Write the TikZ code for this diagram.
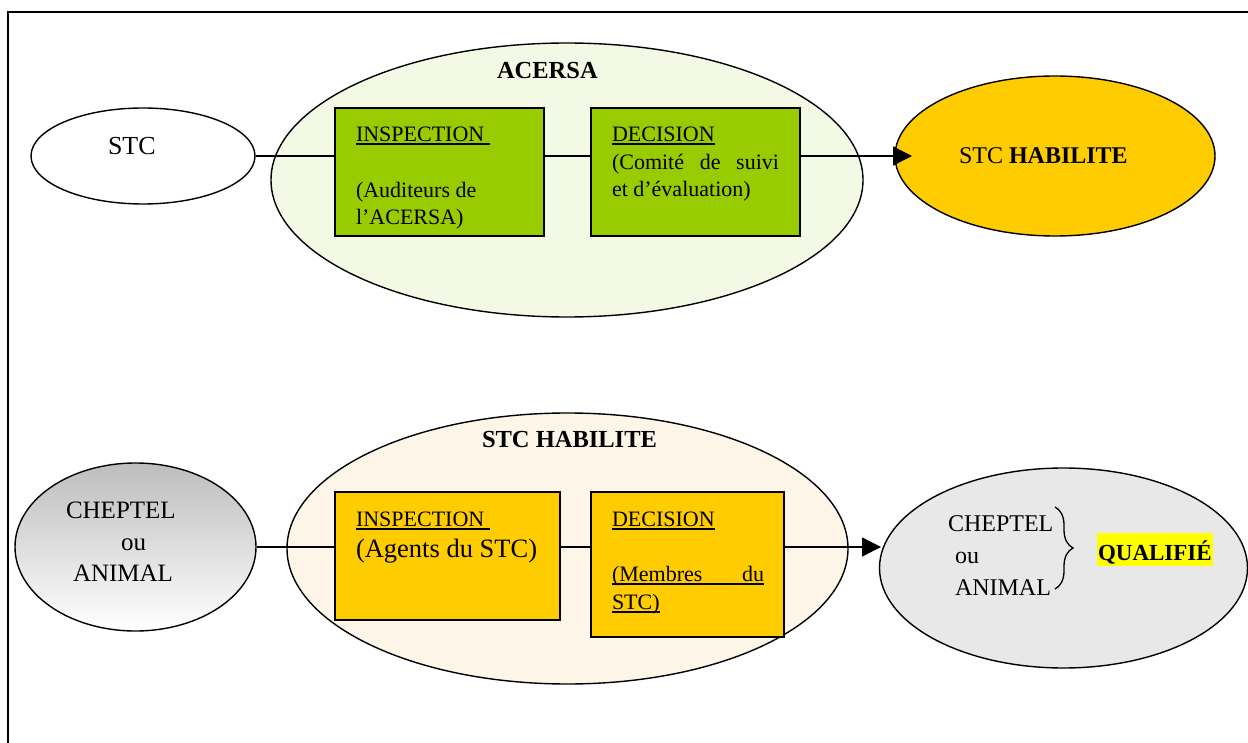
\documentclass[tikz,border=0pt]{standalone}
\usepackage{fontspec}
\setmainfont{Liberation Serif}
\usetikzlibrary{shapes.geometric,arrows.meta,decorations.pathreplacing}
\definecolor{paleGreen}{HTML}{F4F9E6}
\definecolor{cream}{HTML}{FDF5E8}
\definecolor{boxGreen}{HTML}{99CC00}
\definecolor{gold}{HTML}{FFCC00}
\definecolor{lgray}{HTML}{E8E8E8}
\definecolor{hl}{HTML}{FFFF00}
\definecolor{gtop}{HTML}{BDBDBD}
\newsavebox\ulbox
\newcommand\myul[1]{\sbox\ulbox{#1}\rlap{\rule[-3.5pt]{\wd\ulbox}{1.8pt}}\usebox\ulbox}
\newcommand\fsz[1]{\fontsize{#1}{#1}\selectfont}
\tikzset{
 oval/.style={ellipse, draw=black, line width=1.4pt, inner sep=0pt},
 panel/.style={rectangle, draw=black, line width=1.4pt, inner sep=0pt},
 txt/.style={anchor=base west, inner sep=0pt, outer sep=0pt},
 link/.style={line width=1.4pt},
 flow/.style={line width=1.4pt, -{Triangle[length=19pt,width=19pt]}},
}
\begin{document}
\begin{tikzpicture}[x=1pt,y=-1pt]
\useasboundingbox (0,0) rectangle (1248,743);
% frame
\draw[line width=1.5pt] (8,745) -- (8,12) -- (1250,12);

% ===== top row =====
\node[oval, fill=paleGreen, minimum width=592pt, minimum height=274pt] (acersa) at (567,180) {};
\node[txt, font=\fsz{24.5}\bfseries] (acersaT) at (497,78.5) {ACERSA};
\node[oval, fill=white, minimum width=224pt, minimum height=96pt] (stc) at (143,156) {};
\node[txt, font=\fsz{26}] (stcT) at (108,155) {STC};
\node[panel, fill=boxGreen, minimum width=209pt, minimum height=128pt] (insp1) at (439.5,172) {};
\node[panel, fill=boxGreen, minimum width=209pt, minimum height=128pt] (dec1) at (695.5,172) {};
\node[oval, fill=gold, minimum width=320pt, minimum height=160pt] (hab) at (1055,156) {};
\coordinate (hin) at (912,156);

\draw[link] (stc.east) -- (stc.east -| insp1.west);
\draw[link] (stc.east -| insp1.east) -- (stc.east -| dec1.west);
\draw[flow] (stc.east -| dec1.east) -- (hin);

\node[txt, font=\fsz{22}] (i1a) at (356,141.5) {\myul{INSPECTION\ }};
\node[txt, font=\fsz{22}] (i1b) at (356,198) {(Auditeurs de};
\node[txt, font=\fsz{22}] (i1c) at (356,225) {l’ACERSA)};
\node[txt, font=\fsz{22}] (d1a) at (612,141.5) {\myul{DECISION}};
\node[txt, font=\fsz{22}] (d1b) at (612,169.5) {\makebox[167pt][s]{(Comité de suivi}};
\node[txt, font=\fsz{22}] (d1c) at (612,196.5) {et d’évaluation)};
\node[txt, font=\fsz{24}] (habT) at (959,164) {STC \textbf{HABILITE}};

% ===== bottom row =====
\node[oval, fill=cream, minimum width=561pt, minimum height=271pt] (stch) at (567.5,548.5) {};
\node[txt, font=\fsz{24.5}\bfseries] (stchT) at (482,447) {STC HABILITE};
\node[oval, top color=gtop, bottom color=white, minimum width=241pt, minimum height=168pt] (ch) at (135.5,547) {};
\node[txt, font=\fsz{25}] (chA) at (66,518) {CHEPTEL};
\node[txt, font=\fsz{25}] (chB) at (121,550) {ou};
\node[txt, font=\fsz{25}] (chC) at (73,581.5) {ANIMAL};
\node[panel, fill=gold, minimum width=225pt, minimum height=128pt] (insp2) at (447.5,556) {};
\node[panel, fill=gold, minimum width=193pt, minimum height=145pt] (dec2) at (687.5,564.5) {};
\node[oval, fill=lgray, minimum width=368pt, minimum height=200pt] (qual) at (1063.5,568) {};
\coordinate (qin) at (881,547);

\draw[link] (ch.east) -- (ch.east -| insp2.west);
\draw[link] (ch.east -| insp2.east) -- (ch.east -| dec2.west);
\draw[flow] (ch.east -| dec2.east) -- (qin);

\node[txt, font=\fsz{22}] (i2a) at (356,526) {\myul{INSPECTION\ }};
\node[txt, font=\fsz{26.5}] (i2b) at (356,557.5) {(Agents du STC)};
\node[txt, font=\fsz{22}] (d2a) at (612,526) {\myul{DECISION}};
\node[txt, font=\fsz{22}] (d2b) at (612,581.5) {\myul{\makebox[152pt][s]{(Membres du}}};
\node[txt, font=\fsz{22}] (d2c) at (612,609) {\myul{STC)}};

\node[txt, font=\fsz{24}] (qA) at (948,531.5) {CHEPTEL};
\node[txt, font=\fsz{24}] (qB) at (955,563) {ou};
\node[txt, font=\fsz{24}] (qC) at (955,595) {ANIMAL};
\draw[decorate, decoration={brace, amplitude=18pt}, line width=1.3pt] (1055,507) -- (1055,589);
\node[txt, fill=hl, inner sep=1pt, text height=26pt, text depth=5pt, font=\fsz{23}\bfseries] (qualT) at (1097,560) {QUALIFIÉ};
\end{tikzpicture}
\end{document}
